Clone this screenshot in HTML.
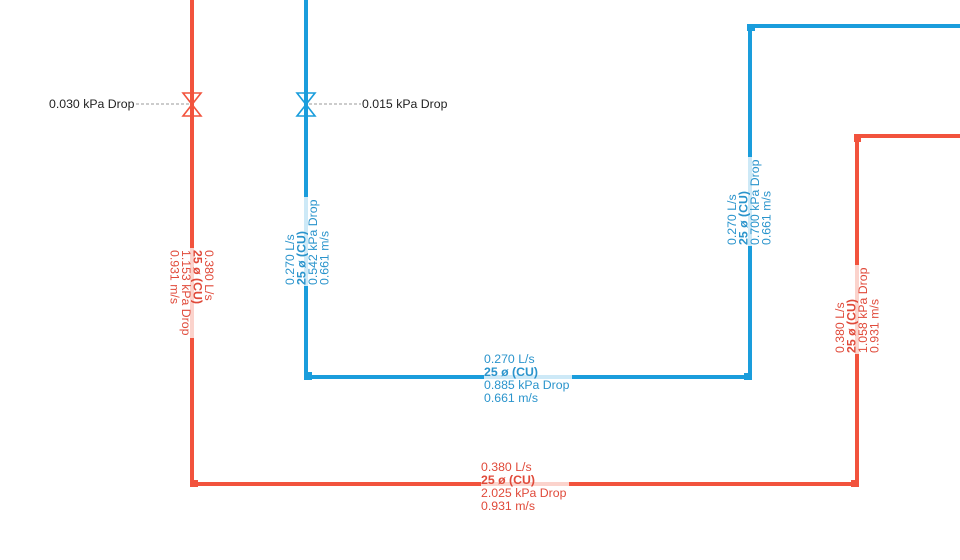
<!DOCTYPE html>
<html><head><meta charset="utf-8"><style>
body{margin:0;background:#fff;}
svg{display:block;font-family:"Liberation Sans",Arial,sans-serif;font-size:12.3px;}
.r{fill:#e04a3a}.b{fill:#2a94cc}
</style></head><body>
<svg width="960" height="560" viewBox="0 0 960 560" xmlns="http://www.w3.org/2000/svg">
<g fill="none" stroke-width="4">
<polyline points="192,0 192,484 857,484 857,136 960,136" stroke="#f2533d"/>
<polyline points="306,0 306,377 750,377 750,26 960,26" stroke="#1a9ddc"/>
</g>
<g fill="#f2533d"><rect x="190" y="480" width="8" height="7"/><rect x="851" y="480" width="8" height="7"/><rect x="854" y="134" width="7" height="8"/></g>
<g fill="#1a9ddc"><rect x="304" y="372" width="8" height="8"/><rect x="744" y="373" width="8" height="7"/><rect x="747" y="24" width="8" height="7"/></g>
<g stroke-width="4">
<line x1="192" y1="248" x2="192" y2="338" stroke="#fbd3cc"/>
<line x1="306" y1="197" x2="306" y2="286" stroke="#cde9f7"/>
<line x1="750" y1="157" x2="750" y2="246" stroke="#cde9f7"/>
<line x1="857" y1="265" x2="857" y2="354" stroke="#fbd3cc"/>
<line x1="484" y1="377" x2="572" y2="377" stroke="#cde9f7"/>
<line x1="481" y1="484" x2="569" y2="484" stroke="#fbd3cc"/>
</g>
<g fill="none" stroke-width="1.6">
<path d="M183,93 L201,93 L183,116 L201,116 Z" stroke="#f2533d"/>
<path d="M297,93 L315,93 L297,116 L315,116 Z" stroke="#1a9ddc"/>
</g>
<g stroke="#999" stroke-width="1" stroke-dasharray="3,2">
<line x1="136" y1="104" x2="189" y2="104"/>
<line x1="309" y1="104" x2="361" y2="104"/>
</g>
<text x="49" y="108" fill="#222">0.030 kPa Drop</text>
<text x="362" y="108" fill="#222">0.015 kPa Drop</text>
<g transform="translate(205,250) rotate(90)" class="r">
<text x="0" y="0">0.380 L/s</text>
<text x="0" y="11.5" font-weight="bold">25 ø (CU)</text>
<text x="0" y="23">1.153 kPa Drop</text>
<text x="0" y="34.5">0.931 m/s</text>
</g>
<g transform="translate(294,285) rotate(-90)" class="b">
<text x="0" y="0">0.270 L/s</text>
<text x="0" y="11.5" font-weight="bold">25 ø (CU)</text>
<text x="0" y="23">0.542 kPa Drop</text>
<text x="0" y="34.5">0.661 m/s</text>
</g>
<g transform="translate(736,245) rotate(-90)" class="b">
<text x="0" y="0">0.270 L/s</text>
<text x="0" y="11.5" font-weight="bold">25 ø (CU)</text>
<text x="0" y="23">0.700 kPa Drop</text>
<text x="0" y="34.5">0.661 m/s</text>
</g>
<g transform="translate(844,353) rotate(-90)" class="r">
<text x="0" y="0">0.380 L/s</text>
<text x="0" y="11.5" font-weight="bold">25 ø (CU)</text>
<text x="0" y="23">1.058 kPa Drop</text>
<text x="0" y="34.5">0.931 m/s</text>
</g>
<g class="b">
<text x="484" y="363">0.270 L/s</text>
<text x="484" y="376" font-weight="bold">25 ø (CU)</text>
<text x="484" y="389">0.885 kPa Drop</text>
<text x="484" y="402">0.661 m/s</text>
</g>
<g class="r">
<text x="481" y="471">0.380 L/s</text>
<text x="481" y="484" font-weight="bold">25 ø (CU)</text>
<text x="481" y="497">2.025 kPa Drop</text>
<text x="481" y="510">0.931 m/s</text>
</g>
</svg>
</body></html>
